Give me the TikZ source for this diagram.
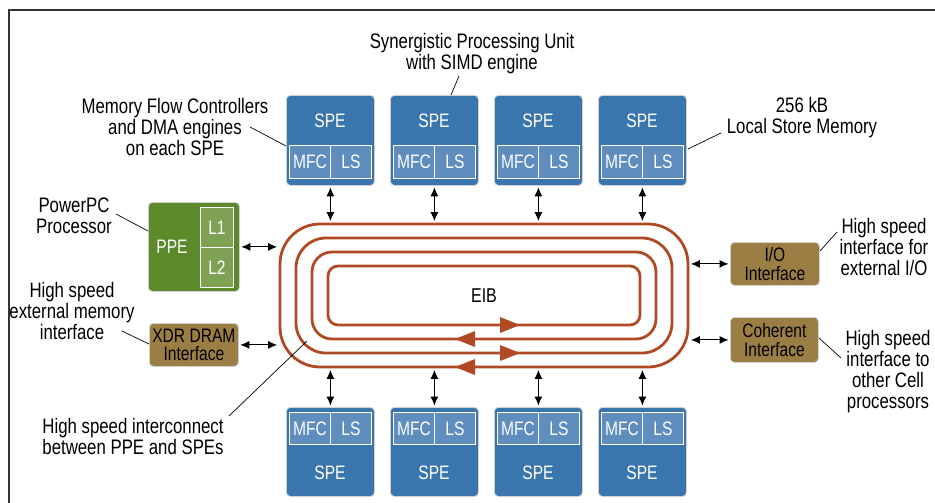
\documentclass[tikz,border=0pt]{standalone}
\usepackage{fontspec}
\setmainfont{Liberation Sans}[FakeStretch=0.8]
\usetikzlibrary{arrows.meta}
\definecolor{speblue}{HTML}{3A76AD}
\definecolor{specell}{HTML}{5E8DBE}
\definecolor{ppegreen}{HTML}{5C8A2B}
\definecolor{ppecell}{HTML}{7FA154}
\definecolor{ifgold}{HTML}{9B7E44}
\definecolor{eibring}{HTML}{B04A24}
\newcommand\unitfont{\fontsize{19.5pt}{20pt}\selectfont}
\newcommand\iffont{\fontsize{19.5pt}{18.5pt}\selectfont}
\newcommand\notefont{\fontsize{21pt}{21pt}\selectfont}
\begin{document}
\begin{tikzpicture}[x=1pt, y=-1pt,
  unit/.style={draw=black!18, line width=0.8pt, rounded corners=4pt, inner sep=0pt, anchor=north west},
  cell/.style={draw=white, line width=0.9pt, inner sep=0pt, anchor=north west, text=white, font=\unitfont},
  unittext/.style={text=white, font=\unitfont, inner sep=0pt},
  iface/.style={unit, fill=ifgold, align=center, font=\iffont, text=black},
  ring/.style={draw=eibring, line width=2.8pt, inner sep=0pt},
  link/.style={<->, >={Latex[length=9pt,width=8pt]}, line width=1pt, shorten <=1.5pt, shorten >=1.5pt},
  note/.style={align=center, font=\notefont, inner sep=0pt},
  leader/.style={line width=0.7pt}
]
\useasboundingbox (0,0) rectangle (935,503);
\fill[white] (0,0) rectangle (935,503);
% outer frame, running off the right and bottom edges
\draw[line width=1.5pt, black!80] (9,10) rectangle (960,530);

% Element Interconnect Bus: four concentric rings
\node[ring, rounded corners=40pt, minimum width=408pt, minimum height=143pt] (ring1) at (484,295.5) {};
\node[ring, rounded corners=30pt, minimum width=376pt, minimum height=115pt] (ring2) at (484,295.5) {};
\node[ring, rounded corners=20pt, minimum width=344pt, minimum height=87pt] (ring3) at (484,295.5) {};
\node[ring, rounded corners=10pt, minimum width=312pt, minimum height=59pt] (ring4) at (484,295.5) {};
\node[font=\fontsize{20pt}{20pt}\selectfont, inner sep=0pt] (eib) at (484,296) {EIB};
% direction of travel on each ring
\fill[eibring] (500,317) -- (520,325) -- (500,333) -- cycle;
\fill[eibring] (475,331) -- (455,339) -- (475,347) -- cycle;
\fill[eibring] (500,345) -- (520,353) -- (500,361) -- cycle;
\fill[eibring] (475,359) -- (455,367) -- (475,375) -- cycle;

% SPEs above the bus
\foreach \i/\x in {1/286,2/390,3/494,4/598} {
  \node[unit, fill=speblue, minimum width=88pt, minimum height=90pt] (spet\i) at (\x,95) {};
  \node[unittext] (spetl\i) at (\x+44,121) {SPE};
  \node[cell, fill=specell, minimum width=41pt, minimum height=33pt] (mfct\i) at (\x+3,145) {MFC};
  \node[cell, fill=specell, minimum width=41pt, minimum height=33pt] (lst\i) at (\x+44,145) {LS};
  \draw[link] (spet\i.south) -- (spet\i.south |- ring1.north);
}
% SPEs below the bus
\foreach \i/\x in {1/286,2/390,3/494,4/598} {
  \node[unit, fill=speblue, minimum width=88pt, minimum height=89pt] (speb\i) at (\x,407) {};
  \node[unittext] (spebl\i) at (\x+44,473) {SPE};
  \node[cell, fill=specell, minimum width=41pt, minimum height=32pt] (mfcb\i) at (\x+3,412) {MFC};
  \node[cell, fill=specell, minimum width=41pt, minimum height=32pt] (lsb\i) at (\x+44,412) {LS};
  \draw[link] (speb\i.north |- ring1.south) -- (speb\i.north);
}

% PPE with its caches
\node[unit, fill=ppegreen, minimum width=91pt, minimum height=89pt] (ppe) at (148,202) {};
\node[unittext] (ppel) at (172,247) {PPE};
\node[cell, fill=ppecell, minimum width=33pt, minimum height=40pt] (l1) at (200,207) {L1};
\node[cell, fill=ppecell, minimum width=33pt, minimum height=40pt] (l2) at (200,247) {L2};
\draw[link] (ppe.east) -- (ppe.east -| ring1.west);

% external interfaces
\node[iface, minimum width=89pt, minimum height=43pt] (xdr) at (149,323) {XDR DRAM\\Interface};
\node[iface, minimum width=89pt, minimum height=43pt] (io) at (730,242) {I/O\\Interface};
\node[iface, minimum width=88pt, minimum height=45pt] (coh) at (730,317) {Coherent\\Interface};
\draw[link] (xdr.east) -- (xdr.east -| ring1.west);
\draw[link] (io.west -| ring1.east) -- (io.west);
\draw[link] (coh.west -| ring1.east) -- (coh.west);

% annotations
\node[note] (synl) at (472,54) {Synergistic Processing Unit\\with SIMD engine};
\coordinate (synA) at (459,76); \coordinate (synB) at (451,95);
\draw[leader] (synA) -- (synB);

\node[note] (mfcl) at (175,126.5) {Memory Flow Controllers\\and DMA engines\\on each SPE};
\coordinate (mfcA) at (250,127); \coordinate (mfcB) at (286,146);
\draw[leader] (mfcA) -- (mfcB);

\node[note] (lsl) at (802,117.5) {256 kB\\Local Store Memory};
\coordinate (lsA) at (721,133); \coordinate (lsB) at (688,149);
\draw[leader] (lsA) -- (lsB);

\node[note] (ppen) at (74,216) {PowerPC\\Processor};
\coordinate (ppeA) at (116,214); \coordinate (ppeB) at (148,231);
\draw[leader] (ppeA) -- (ppeB);

\node[note] (xdrn) at (72,311) {High speed\\external memory\\interface};
\coordinate (xdrA) at (122,331); \coordinate (xdrB) at (149,344);
\draw[leader] (xdrA) -- (xdrB);

\node[note] (ion) at (884,247) {High speed\\interface for\\external I/O};
\coordinate (ioA) at (837,232); \coordinate (ioB) at (820,251);
\draw[leader] (ioA) -- (ioB);

\node[note] (cohn) at (888,371.5) {High speed\\interface to\\other Cell\\processors};
\coordinate (cohA) at (819,338); \coordinate (cohB) at (841,358);
\draw[leader] (cohA) -- (cohB);

\node[note] (eibn) at (133,436) {High speed interconnect\\between PPE and SPEs};
\coordinate (eibA) at (229,416); \coordinate (eibB) at (307,341);
\draw[leader] (eibA) -- (eibB);
\end{tikzpicture}
\end{document}
